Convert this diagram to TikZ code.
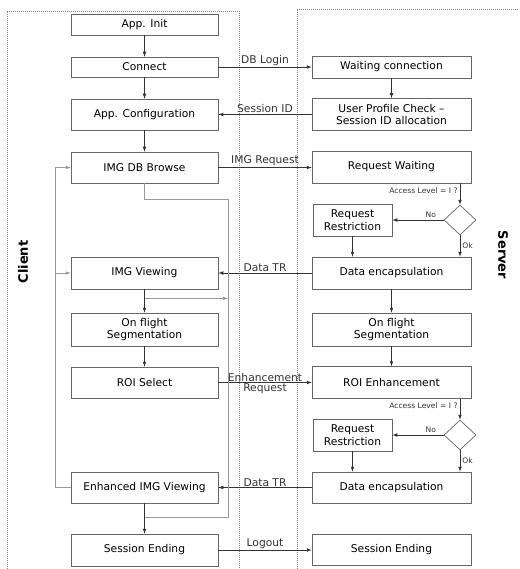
\documentclass[tikz,border=0pt]{standalone}
\usepackage{fontspec}
\setmainfont{DejaVu Sans}
\usepackage{tikz}
\usetikzlibrary{shapes.geometric}

\begin{document}
\begin{tikzpicture}[x=1pt,y=-1pt,>=latex,
    box/.style={draw=black!60,line width=0.7pt,inner sep=0pt,align=center,
      minimum width=147pt,minimum height=31pt,font=\fontsize{10.7}{12.5}\selectfont},
    sbox/.style={box,minimum width=159pt},
    rbox/.style={box,minimum width=79pt,minimum height=32pt},
    test/.style={draw=black!60,line width=0.7pt,diamond,inner sep=0pt,
      minimum width=32pt,minimum height=30pt},
    flow/.style={->,line width=0.7pt,black!80},
    gline/.style={line width=0.7pt,black!40},
    frame/.style={black!50,line width=0.6pt,dash pattern=on 1pt off 1pt},
    msg/.style={font=\fontsize{10.7}{12.5}\selectfont,inner sep=1pt},
    small/.style={font=\fontsize{7.6}{9}\selectfont,inner sep=2pt}]
  \useasboundingbox (0,0) rectangle (519,569);

  % frames
  \draw[frame] (7,569) -- (7,11) -- (239,11) -- (239,569);
  \draw[frame] (297,569) -- (297,9) -- (519,9);
  \node[rotate=90,font=\fontsize{13}{15}\selectfont\bfseries] (clt) at (23,262) {Client};
  \node[rotate=-90,font=\fontsize{13}{15}\selectfont\bfseries] (srv) at (503,255) {Server};

  % client side
  \node[box,minimum height=21pt] (init) at (144.5,24.5) {App. Init};
  \node[box,minimum height=20pt] (connect) at (144.5,67) {Connect};
  \node[box] (config) at (144.5,114.5) {App. Configuration};
  \node[box] (browse) at (144.5,167.5) {IMG DB Browse};
  \node[box,minimum height=32pt] (viewing) at (144.5,273) {IMG Viewing};
  \node[box,minimum height=33pt] (cseg) at (144.5,329.5) {On flight\\Segmentation};
  \node[box] (roisel) at (144.5,382.5) {ROI Select};
  \node[box] (enhview) at (144.5,487.5) {Enhanced IMG Viewing};
  \node[box,minimum height=32pt] (cend) at (144.5,550) {Session Ending};

  % server side
  \node[sbox,minimum height=22pt] (waiting) at (391.5,67) {Waiting connection};
  \node[sbox,minimum height=32pt] (profile) at (391.5,114.5) {User Profile Check --\\Session ID allocation};
  \node[sbox,minimum height=32pt] (reqwait) at (391.5,167) {Request Waiting};
  \node[rbox] (restr1) at (352.5,220) {Request\\Restriction};
  \node[test] (dia1) at (460,220) {};
  \node[sbox,minimum height=32pt] (enc1) at (391.5,273) {Data encapsulation};
  \node[sbox,minimum height=33pt] (sseg) at (391.5,329.5) {On flight\\Segmentation};
  \node[sbox,minimum height=32pt] (roienh) at (391.5,382.5) {ROI Enhancement};
  \node[rbox] (restr2) at (352.5,435) {Request\\Restriction};
  \node[test] (dia2) at (460,435) {};
  \node[sbox] (enc2) at (391.5,487.5) {Data encapsulation};
  \node[sbox] (send) at (391.5,550) {Session Ending};

  % client flow
  \draw[flow] (init) -- (connect);
  \draw[flow] (connect) -- (config);
  \draw[flow] (config) -- (browse);
  \draw[flow] (viewing) -- (cseg);
  \draw[flow] (cseg) -- (roisel);
  \draw[flow] (enhview) -- (cend);

  % server flow
  \draw[flow] (waiting) -- (profile);
  \draw[flow] (reqwait.south -| dia1) -- node[small,left,pos=0.35] {Access Level = I ?} (dia1.north);
  \draw[flow] (dia1.west) -- node[small,above,pos=0.25] {No} (restr1.east);
  \draw[flow] (dia1.south) -- node[small,right,pos=0.5] {Ok} (dia1.south |- enc1.north);
  \draw[flow] (restr1.south) -- (restr1.south |- enc1.north);
  \draw[flow] (enc1) -- (sseg);
  \draw[flow] (sseg) -- (roienh);
  \draw[flow] (roienh.south -| dia2) -- node[small,left,pos=0.35] {Access Level = I ?} (dia2.north);
  \draw[flow] (dia2.west) -- node[small,above,pos=0.25] {No} (restr2.east);
  \draw[flow] (dia2.south) -- node[small,right,pos=0.5] {Ok} (dia2.south |- enc2.north);
  \draw[flow] (restr2.south) -- (restr2.south |- enc2.north);

  % messages
  \draw[flow] (connect) -- node[msg,above] {DB Login} (waiting);
  \draw[flow] (profile) -- node[msg,above] {Session ID} (config);
  \draw[flow] (browse.east) -- node[msg,above] {IMG Request} (browse.east -| reqwait.west);
  \draw[flow] (enc1) -- node[msg,above] {Data TR} (viewing);
  \draw[flow] (roisel) -- node[msg,above] {Enhancement} node[msg,below] {Request} (roienh);
  \draw[flow] (enc2) -- node[msg,above] {Data TR} (enhview);
  \draw[flow] (cend) -- node[msg,above] {Logout} (send);

  % gray routes
  \coordinate (jump1) at (228,199);
  \coordinate (jump2) at (228,517);
  \coordinate (back) at (55,487.5);
  \draw[gline] (browse.south) |- (jump1) -- (jump2) -- (jump2 -| cend.north);
  \draw[gline,->] ([yshift=-9pt]viewing.south) -- ([yshift=-9pt]viewing.south -| jump1);
  \draw[gline,->] (enhview.west) -- (back) |- (browse.west);
  \draw[gline,->] (back |- viewing.west) -- (viewing.west);
\end{tikzpicture}
\end{document}
